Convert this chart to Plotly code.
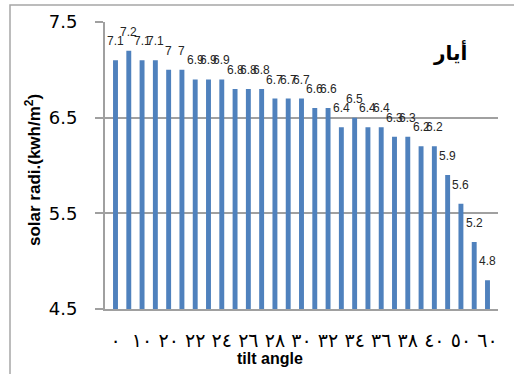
import plotly.graph_objects as go

# Data
angles = [0, 5, 10, 15, 20, 21, 22, 23, 24, 25, 26, 27, 28, 29,
          30, 31, 32, 33, 34, 35, 36, 37, 38, 39, 40, 45, 50, 55, 60]
radiation = [7.1, 7.2, 7.1, 7.1, 7, 7, 6.9, 6.9, 6.9, 6.8, 6.8, 6.8, 6.7, 6.7,
             6.7, 6.6, 6.6, 6.4, 6.5, 6.4, 6.4, 6.3, 6.3, 6.2, 6.2, 5.9, 5.6, 5.2, 4.8]
tick_angles = [0, 10, 20, 22, 24, 26, 28, 30, 32, 34, 36, 38, 40, 50, 60]
tick_text = ["٠", "١٠", "٢٠", "٢٢", "٢٤", "٢٦", "٢٨", "٣٠", "٣٢", "٣٤", "٣٦", "٣٨", "٤٠", "٥٠", "٦٠"]
y_ticks = [4.5, 5.5, 6.5, 7.5]
month_label = "أيار"

W, H = 514, 374
L, R, T, B = 105, 16, 22, 65
pw, ph = W - L - R, H - T - B

def px_x(p):
    return (p - L) / pw

def px_y(p):
    return (H - B - p) / ph

def cat(a):
    return f"{a}°"

grid = "#a0a0a0"
cats = [cat(a) for a in angles]
tick_cats = [cat(a) for a in tick_angles]

fig = go.Figure()
fig.add_trace(go.Bar(x=cats, y=radiation, marker=dict(color="#4F81BD", line=dict(width=0)),
                     hoverinfo="x+y"))

annotations = []
for c, v in zip(cats, radiation):
    annotations.append(dict(x=c, y=v, xref="x", yref="y", text=f"{v:g}", showarrow=False,
                            yshift=19, xanchor="center", yanchor="middle",
                            font=dict(family="Liberation Sans", size=12, color="#262626")))

annotations.append(dict(x=px_x(450), y=px_y(52), xref="paper", yref="paper", text=f"<b>{month_label}</b>",
                        showarrow=False, xanchor="center", yanchor="middle",
                        font=dict(family="DejaVu Sans", size=20, color="black")))
annotations.append(dict(x=px_x(33), y=px_y(170), xref="paper", yref="paper",
                        text="<b>solar radi.(kwh/m<sup>2</sup>)</b>", textangle=-90,
                        showarrow=False, xanchor="center", yanchor="middle",
                        font=dict(family="Liberation Sans", size=17, color="black")))
annotations.append(dict(x=px_x(270), y=px_y(358), xref="paper", yref="paper",
                        text="<b>tilt angle</b>", showarrow=False, xanchor="center", yanchor="middle",
                        font=dict(family="Liberation Sans", size=16, color="black")))

fig.update_layout(
    width=W, height=H,
    margin=dict(l=L, r=R, t=T, b=B, pad=0),
    paper_bgcolor="white", plot_bgcolor="white",
    showlegend=False,
    bargap=0.63,
    annotations=annotations,
    shapes=[dict(type="rect", xref="paper", yref="paper",
                 x0=px_x(10), x1=px_x(530), y0=px_y(390), y1=px_y(5),
                 line=dict(color="#a6a6a6", width=1.5), fillcolor="rgba(0,0,0,0)", layer="below")],
    xaxis=dict(
        type="category", categoryorder="array", categoryarray=cats,
        tickmode="array", tickvals=tick_cats, ticktext=tick_text, tickangle=0,
        showline=True, linecolor=grid, linewidth=2, ticks="",
        showgrid=False, ticklabelstandoff=13,
        tickfont=dict(family="DejaVu Sans", size=19, color="black"),
    ),
    yaxis=dict(
        range=[4.5, 7.5], tickmode="array", tickvals=y_ticks, ticktext=[f"{v}" for v in y_ticks],
        showgrid=True, gridcolor=grid, gridwidth=2,
        showline=True, linecolor=grid, linewidth=2,
        ticks="outside", ticklen=8, tickcolor=grid, tickwidth=2,
        ticklabelstandoff=14, zeroline=False,
        tickfont=dict(family="DejaVu Sans", size=18, color="black"),
    ),
)

fig.write_html("out.html")
